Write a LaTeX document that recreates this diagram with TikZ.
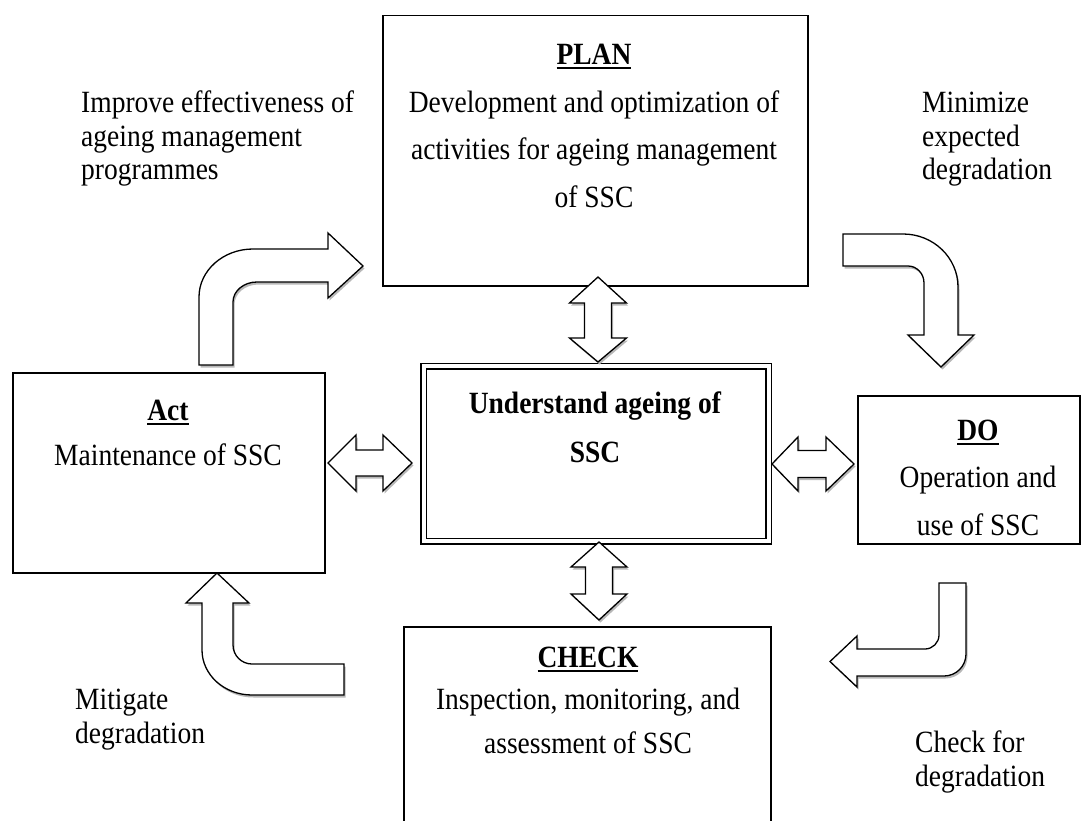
\documentclass[tikz,border=0pt]{standalone}
\usepackage{fontspec}
\setmainfont{Liberation Serif}[FakeStretch=0.89]
\usetikzlibrary{shadows}
% bold heading with a heavy underline
\newcommand\undl[1]{\setbox0\hbox{#1}\rlap{\rule[-5pt]{\wd0}{2pt}}\box0}
\begin{document}
\begin{tikzpicture}[x=1pt,y=-1pt,
  panel/.style={draw, line width=1.5pt, fill=white, inner sep=0pt, anchor=north west},
  blockarrow/.style={draw, line width=1.3pt, fill=white, line join=miter,
     drop shadow={shadow xshift=1.5pt, shadow yshift=-2.5pt, fill=black!28, opacity=1}},
  body/.style={font=\fontsize{30.9}{#1}\selectfont, align=center, inner sep=0pt, anchor=base},
  note/.style={font=\fontsize{30.9}{33.5}\selectfont, align=left, inner sep=0pt, anchor=base west},
]
\useasboundingbox (0,0) rectangle (1087,821);
\clip (0,0) rectangle (1087,821);

% stage boxes
\node[panel, minimum width=425, minimum height=270] (plan) at (382,15) {};
\node[panel, minimum width=312, minimum height=200] (act) at (12,372) {};
\node[panel, minimum width=222, minimum height=148] (do) at (857,395) {};
\node[panel, minimum width=367, minimum height=230] (check) at (403,626) {};
\node[draw, fill=white, line width=1.5pt, double, double distance=4pt,
      minimum width=345, minimum height=175, anchor=north west] (core) at (423,365.5) {};

% box texts (anchored at the baseline of their last line)
\node[body=48] (plantxt) at (594,208) {\textbf{\undl{PLAN}}\\Development and optimization of\\activities for ageing management\\of SSC};
\node[body=45] (acttxt) at (168,465) {\textbf{\undl{Act}}\\Maintenance of SSC};
\node[body=49] (coretxt) at (595,462) {\textbf{Understand ageing of}\\\textbf{SSC}};
\node[body=47.5] (dotxt) at (978,535) {\textbf{\undl{DO}}\\Operation and\\use of SSC};
\node[body=44] (checktxt) at (588,753) {\textbf{\undl{CHECK}}\\[-2pt]Inspection, monitoring, and\\assessment of SSC};

% side notes
\node[note] (improve) at (81,180) {Improve effectiveness of\\ageing management\\programmes};
\node[note] (minimize) at (922,180) {Minimize\\expected\\degradation};
\node[note] (mitigate) at (75,743) {Mitigate\\degradation};
\node[note] (checkfor) at (915,786) {Check for\\degradation};

% two-way block arrows around the central box
\draw[blockarrow] (598,277) -- (626.5,303) -- (611.5,303) -- (611.5,338) -- (626.5,338)
  -- (598,362) -- (569.5,338) -- (584.5,338) -- (584.5,303) -- (569.5,303) -- cycle;
\draw[blockarrow] (599,542) -- (627,567) -- (612.5,567) -- (612.5,594) -- (627,594)
  -- (599,620) -- (571,594) -- (585.5,594) -- (585.5,567) -- (571,567) -- cycle;
\draw[blockarrow] (328,463) -- (356,435) -- (356,450) -- (383,450) -- (383,435)
  -- (412,463) -- (383,491) -- (383,476) -- (356,476) -- (356,491) -- cycle;
\draw[blockarrow] (772,464) -- (798,437) -- (798,450.5) -- (826,450.5) -- (826,437)
  -- (854,464) -- (826,491) -- (826,477.5) -- (798,477.5) -- (798,491) -- cycle;

% bent block arrows of the cycle
% Act -> PLAN
\draw[blockarrow] (199,365) -- (199,297) .. controls (199,270.5) and (223.2,249) .. (253,249)
  -- (328,249) -- (328,233) -- (363,266) -- (328,298) -- (328,282) -- (257,282)
  .. controls (243.7,282) and (233,291) .. (233,302) -- (233,365) -- cycle;
% PLAN -> DO
\draw[blockarrow] (843,234) -- (903,234) .. controls (933.4,234) and (958,257.7) .. (958,287)
  -- (958,335) -- (974,335) -- (941,367) -- (908,335) -- (924,335) -- (924,283)
  .. controls (924,273.6) and (916.8,266) .. (908,266) -- (843,266) -- cycle;
% DO -> CHECK
\draw[blockarrow] (939,583) -- (966,583) -- (966,654) .. controls (966,666.2) and (956.2,676) .. (944,676)
  -- (857,676) -- (857,687) -- (830,661.5) -- (857,636) -- (857,649) -- (925,649)
  .. controls (932.7,649) and (939,642.7) .. (939,635) -- cycle;
% CHECK -> Act
\draw[blockarrow] (217,573) -- (249,603) -- (233,603) -- (233,645)
  .. controls (233,655.5) and (241.5,664) .. (252,664) -- (344,664) -- (344,695) -- (252,695)
  .. controls (224.4,695) and (202,674.9) .. (202,650) -- (202,603) -- (186,603) -- cycle;
\end{tikzpicture}
\end{document}
